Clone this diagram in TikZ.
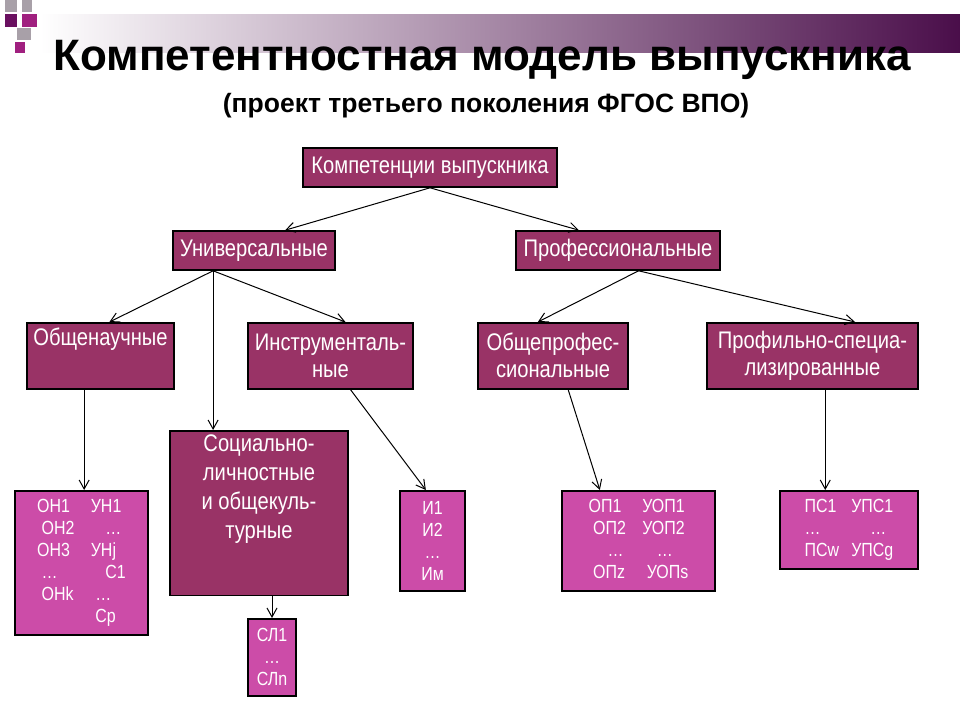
\documentclass[tikz,border=0pt]{standalone}
\usepackage{fontspec}
\setmainfont{Liberation Sans}
\newfontfamily\narrowfont[FakeStretch=0.84]{Liberation Sans}
\usetikzlibrary{arrows.meta, calc, positioning}
\definecolor{boxdark}{HTML}{993366}
\definecolor{boxlight}{HTML}{CC4CA8}
\definecolor{bardark}{HTML}{4A0E4A}
\definecolor{sqgray}{HTML}{A8A0A8}
\definecolor{sqpurple}{HTML}{6A1060}
\definecolor{sqmag}{HTML}{A0207F}
\tikzset{
  mainbox/.style={rectangle, draw=black, line width=1.6pt, fill=boxdark, text=white, font=\narrowfont\fontsize{24}{34}\selectfont, align=center, anchor=north west, inner sep=2pt},
  itembox/.style={rectangle, draw=black, line width=1.6pt, fill=boxlight, text=white, font=\narrowfont\fontsize{19}{22}\selectfont, align=center, anchor=north west, inner sep=2pt},
  arrow/.style={line width=1pt, -{Straight Barb[length=9pt,width=10pt,line width=1pt]}}
}
\begin{document}
\begin{tikzpicture}[x=1pt, y=-1pt]
  \useasboundingbox (0,0) rectangle (960,720);
  % Header bar and squares
  \shade[left color=white, right color=bardark] (40,14) rectangle (960,52);
  \fill[sqgray] (5,0) rectangle (17,12);
  \fill[sqpurple] (5,14) rectangle (17,27);
  \fill[sqmag] (22,14) rectangle (37,27);
  \fill[sqgray] (22,0) rectangle (32,12);
  \fill[sqgray] (17,28) rectangle (31,40);
  \fill[sqmag] (15,42) rectangle (25,53);
  % Titles
  \node[font=\bfseries\fontsize{44}{48}\selectfont] (title) at (482,60) {Компетентностная модель выпускника};
  \node[font=\bfseries\fontsize{26.5}{30}\selectfont] (subtitle) at (486,106) {(проект третьего поколения ФГОС ВПО)};
  % Level 1
  \node[mainbox, minimum width=254pt, minimum height=39pt, anchor=center] (grad) at (430,167.5) {Компетенции выпускника};
  % Level 2
  \node[mainbox, minimum width=162pt, minimum height=39pt, anchor=center] (univ) at (254,250.5) {Универсальные};
  \node[mainbox, minimum width=204pt, minimum height=39pt, anchor=center] (prof) at (618,250.5) {Профессиональные};
  % Level 3
  \node[mainbox, minimum width=147pt, minimum height=66pt, anchor=north] (sci) at (100.5,322) {Общенаучные\\[-6pt] \strut};
  \node[mainbox, minimum width=165pt, minimum height=66pt, anchor=north, font=\narrowfont\fontsize{24}{27}\selectfont] (instr) at (330.5,322) {Инструменталь-\\ные};
  \node[mainbox, minimum width=150pt, minimum height=66pt, anchor=north, font=\narrowfont\fontsize{24}{27}\selectfont] (gprof) at (553,322) {Общепрофес-\\сиональные};
  \node[mainbox, minimum width=211pt, minimum height=66pt, anchor=north, font=\narrowfont\fontsize{24}{27}\selectfont] (spec) at (812.5,322) {Профильно-специа-\\лизированные};
  \node[mainbox, minimum width=178pt, minimum height=154pt, anchor=north, inner sep=4pt, font=\narrowfont\fontsize{24}{29}\selectfont] (soc) at (259,430) {Социально-\\личностные\\и общекуль-\\турные\\[24pt]};
  % Level 4
  \node[itembox, minimum width=133pt, minimum height=144pt, anchor=north] (on) at (81.5,490)
    {\begin{tabular}{@{}ll@{}}ОН1 & \ УН1\\ \ ОН2 & \quad …\\ ОН3 & \ УНj\\ \ … & \quad С1\\ \ ОНk & \ \ …\\ & \ \ Ср\end{tabular}};
  \node[itembox, minimum width=48pt, minimum height=77pt, anchor=north] (sl) at (272,618) {СЛ1\\…\\СЛn};
  \node[itembox, minimum width=65pt, minimum height=100pt, anchor=north] (ii) at (432.5,490) {И1\\И2\\…\\Им};
  \node[itembox, minimum width=153pt, minimum height=100pt, anchor=north] (op) at (638.5,490)
    {\begin{tabular}{@{}ll@{}}ОП1 & \ УОП1\\ \ ОП2 & \ УОП2\\ \quad … & \quad …\\ \ ОПz & \ \ УОПs\end{tabular}};
  \node[itembox, minimum width=138pt, minimum height=78pt, anchor=north] (ps) at (849,490)
    {\begin{tabular}{@{}ll@{}}ПС1 & УПС1\\ … & \quad …\\ ПСw & УПСg\end{tabular}};
  % Arrows
  \draw[arrow] (grad.south) -- ($(univ.north west)!0.69!(univ.north east)$);
  \draw[arrow] (grad.south) -- ($(prof.north west)!0.31!(prof.north east)$);
  \draw[arrow] ($(univ.south west)!0.25!(univ.south east)$) -- ($(sci.north west)!0.56!(sci.north east)$);
  \draw[arrow] ($(univ.south west)!0.25!(univ.south east)$) -- (soc.north -| {$(univ.south west)!0.25!(univ.south east)$});
  \draw[arrow] ($(univ.south west)!0.25!(univ.south east)$) -- ($(instr.north west)!0.59!(instr.north east)$);
  \draw[arrow] ($(prof.south west)!0.6!(prof.south east)$) -- ($(gprof.north west)!0.4!(gprof.north east)$);
  \draw[arrow] ($(prof.south west)!0.6!(prof.south east)$) -- ($(spec.north west)!0.7!(spec.north east)$);
  \draw[arrow] ($(sci.south west)!0.39!(sci.south east)$) -- (on.north -| {$(sci.south west)!0.39!(sci.south east)$});
  \draw[arrow] ($(instr.south west)!0.62!(instr.south east)$) -- ($(ii.north west)!0.4!(ii.north east)$);
  \draw[arrow] ($(gprof.south west)!0.6!(gprof.south east)$) -- ($(op.north west)!0.25!(op.north east)$);
  \draw[arrow] ($(spec.south west)!0.56!(spec.south east)$) -- (ps.north -| {$(spec.south west)!0.56!(spec.south east)$});
  \draw[arrow] (soc.south -| sl.north) -- (sl.north);
\end{tikzpicture}
\end{document}
